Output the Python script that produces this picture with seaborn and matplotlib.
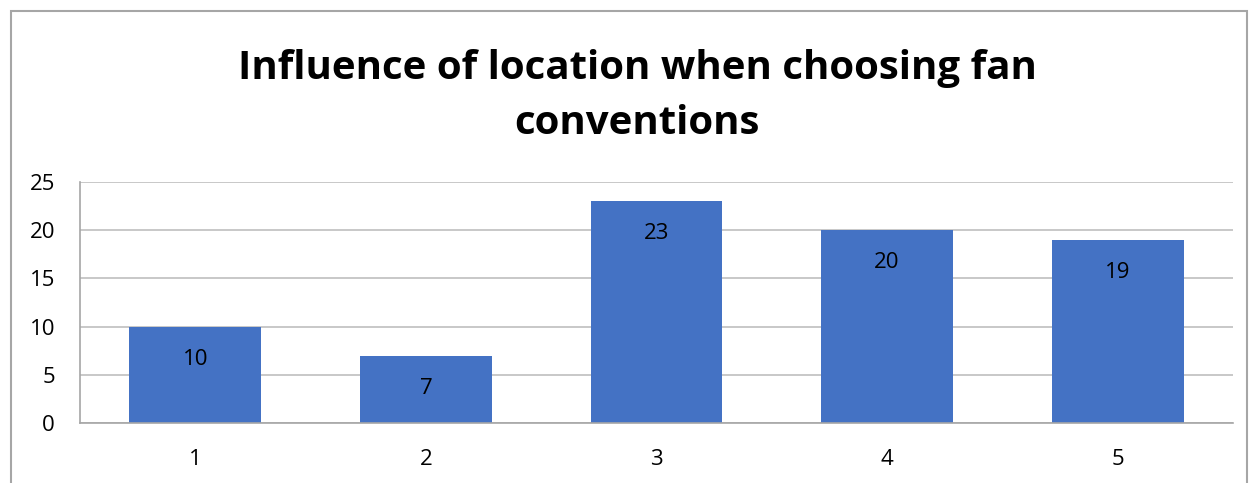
import matplotlib
matplotlib.use("Agg")
import matplotlib.pyplot as plt
import seaborn as sns
import pandas as pd
from matplotlib.patches import Rectangle

categories = ["1", "2", "3", "4", "5"]
values = [10, 7, 23, 20, 19]
yticks = [0, 5, 10, 15, 20, 25]
title = "Influence of location when choosing fan\nconventions"

sns.set_theme(style="white")
plt.rcParams['font.family'] = ['Open Sans', 'DejaVu Sans']

W, H = 1252, 483
fig = plt.figure(figsize=(W / 100, H / 100), dpi=100)
ax = fig.add_axes([80 / W, 1 - 423 / H, (1233 - 80) / W, (423 - 182) / H])

df = pd.DataFrame({"cat": categories, "val": values})
sns.barplot(data=df, x="cat", y="val", color="#4472C4", saturation=1,
            width=0.572, ax=ax, edgecolor="none")

ax.set_ylim(0, 25)
ax.set_xlim(-0.5, len(categories) - 0.5)
ax.set_yticks(yticks)
ax.set_yticklabels([str(t) for t in yticks])
ax.yaxis.grid(True, color="#BFBFBF", linewidth=1.2)
ax.set_axisbelow(True)
ax.set_xlabel("")
ax.set_ylabel("")
for s in ["top", "right"]:
    ax.spines[s].set_visible(False)
for s in ["left", "bottom"]:
    ax.spines[s].set_color("#A6A6A6")
    ax.spines[s].set_linewidth(1.2)
ax.tick_params(axis="both", length=0, labelsize=16, colors="#000000")
ax.tick_params(axis="x", pad=19)
ax.tick_params(axis="y", pad=18)

for c in ax.containers:
    ax.bar_label(c, labels=[str(v) for v in values], label_type="edge",
                 padding=-31, fontsize=16, color="#000000")

fig.text(637 / W, 1 - 96 / H, title, ha="center", va="center",
         fontsize=29, fontweight="bold", linespacing=1.55, color="#000000")

fig.patches.append(Rectangle((11 / W, -0.1), (1247 - 11) / W, 1.1 - 11 / H,
                             transform=fig.transFigure, fill=False,
                             edgecolor="#A6A6A6", linewidth=1.5))

fig.savefig("out.png", dpi=100, facecolor="white")
